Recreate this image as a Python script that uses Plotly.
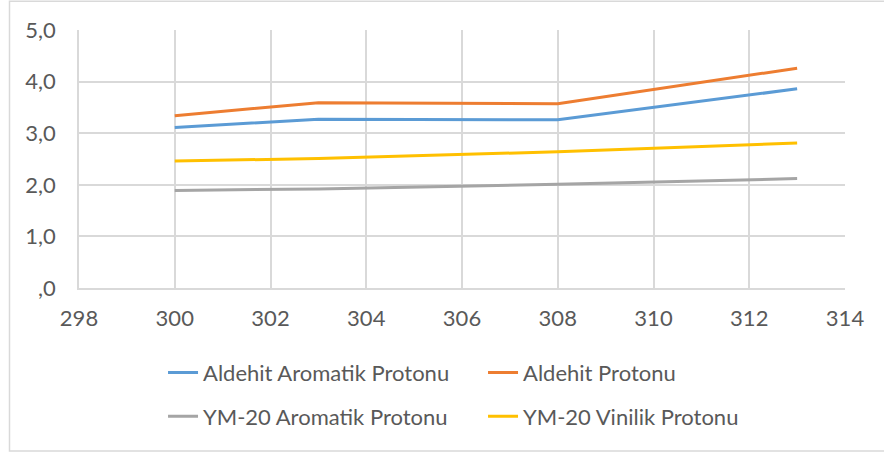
import plotly.graph_objects as go

x_vals = [300, 303, 308, 313]
aldehit_aromatik = [3.11, 3.27, 3.26, 3.86]
aldehit_proton = [3.34, 3.59, 3.57, 4.26]
ym20_aromatik = [1.89, 1.92, 2.01, 2.12]
ym20_vinilik = [2.46, 2.51, 2.64, 2.81]

names = ["Aldehit Aromatik Protonu", "Aldehit Protonu",
         "YM-20 Aromatik Protonu", "YM-20 Vinilik Protonu"]
colors = ["#5B9BD5", "#ED7D31", "#A5A5A5", "#FFC000"]

y_tickvals = [0, 1, 2, 3, 4, 5]
y_ticktext = [",0", "1,0", "2,0", "3,0", "4,0", "5,0"]
x_tickvals = [298, 300, 302, 304, 306, 308, 310, 312, 314]

FONT = "Lato"
TXT = "#595959"
GRID = "#D9D9D9"
FS = 22

fig = go.Figure()
series = [aldehit_aromatik, aldehit_proton, ym20_aromatik, ym20_vinilik]
legends = ["legend", "legend", "legend2", "legend2"]
for s, n, c, lg in zip(series, names, colors, legends):
    fig.add_trace(go.Scatter(x=x_vals, y=s, name=n, mode="lines",
                             line=dict(color=c, width=3), legend=lg))

leg_common = dict(orientation="h", entrywidth=275, entrywidthmode="pixels",
                  font=dict(family=FONT, size=FS, color=TXT),
                  bgcolor="rgba(0,0,0,0)", xanchor="left", yanchor="middle",
                  itemclick=False)

fig.update_layout(
    width=884, height=454,
    margin=dict(l=79, r=39, t=30, b=166),
    paper_bgcolor="white", plot_bgcolor="white",
    font=dict(family=FONT, size=FS, color=TXT),
    legend=dict(x=0.1097, y=-0.328, **leg_common),
    legend2=dict(x=0.1097, y=-0.498, **leg_common),
    xaxis=dict(range=[298, 314], tickvals=x_tickvals, showgrid=True,
               gridcolor=GRID, gridwidth=1.5, zeroline=False,
               showline=True, linecolor=GRID, linewidth=1.5,
               ticks="outside", ticklen=10, tickcolor="rgba(0,0,0,0)",
               tickfont=dict(family=FONT, size=FS, color=TXT)),
    yaxis=dict(range=[0, 5], tickvals=y_tickvals, ticktext=y_ticktext,
               showgrid=True, gridcolor=GRID, gridwidth=1.5, zeroline=False,
               showline=True, linecolor=GRID, linewidth=1.5,
               ticks="outside", ticklen=17, tickcolor="rgba(0,0,0,0)",
               tickfont=dict(family=FONT, size=FS, color=TXT)),
    shapes=[dict(type="rect", xref="paper", yref="paper",
                 x0=(9.5 - 79) / 766, x1=(890 - 79) / 766,
                 y0=(288.3 - 451.5) / 258.3, y1=(288.3 - 1.2) / 258.3,
                 line=dict(color=GRID, width=1.5), fillcolor="rgba(0,0,0,0)",
                 layer="below")],
)
fig.write_html("out.html", config={"displayModeBar": False},
               post_script="document.body.style.margin='0';")
